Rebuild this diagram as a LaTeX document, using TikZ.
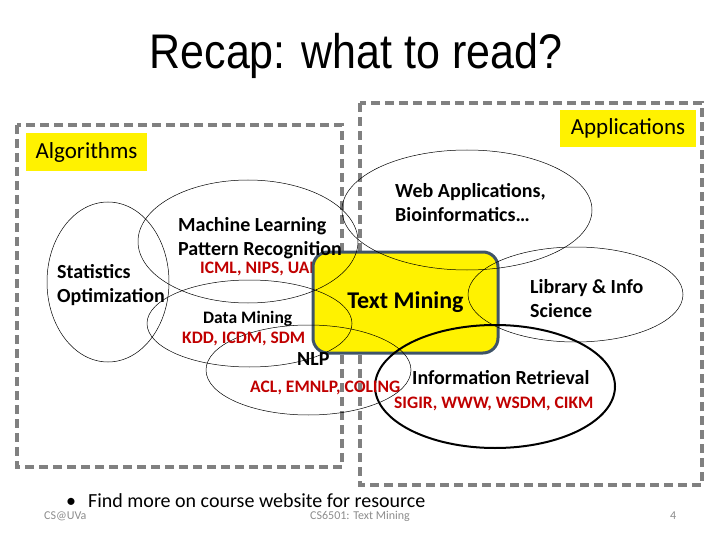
\documentclass[tikz,border=0pt]{standalone}
\usepackage{fontspec}
\setmainfont{Carlito}
\newfontfamily\titlefont{Liberation Sans}
\definecolor{confred}{HTML}{C00000}
\definecolor{areagray}{HTML}{808080}
\definecolor{tmborder}{HTML}{3F5468}
\definecolor{footgray}{HTML}{8C8C8C}

\tikzset{
    area/.style={draw=areagray, line width=3.5pt, dash pattern=on 9pt off 5pt},
    tag/.style={fill=yellow, inner sep=0pt, font=\fontsize{23}{28}\selectfont},
    field/.style={draw=black, line width=0.5pt},
    topic/.style={font=\bfseries\fontsize{20}{24}\selectfont, anchor=base west, inner sep=0pt},
    venue/.style={text=confred, font=\bfseries\fontsize{17.5}{21}\selectfont, anchor=base west, inner sep=0pt},
    foot/.style={text=footgray, font=\fontsize{12}{14}\selectfont, anchor=base west, inner sep=0pt},
}

\begin{document}
\begin{tikzpicture}[x=1pt, y=-1pt]
        \useasboundingbox (0,0) rectangle (720,540);

        % Titel
        \node[font=\titlefont\fontsize{43}{50}\selectfont, anchor=base, inner sep=0pt] (title) at (356,69)
            {\scalebox{1}[1.13]{Recap: what to read?}};

        % Bereiche
        \draw[area] (17,125) rectangle (342,467); % Algorithms
        \draw[area] (360,103) rectangle (702,485); % Applications
        \node[tag, minimum width=121pt, minimum height=38pt] (algo) at (86.5,152) {Algorithms};
        \node[tag, minimum width=136pt, minimum height=37pt] (apps) at (628,128.5) {Applications};

        % Text Mining in der Mitte (liegt ueber UAI)
        \node[venue] (icml) at (200,273) {ICML, NIPS, UAI};
        \node[draw=tmborder, line width=3pt, fill=yellow, rounded corners=15pt,
              minimum width=185pt, minimum height=101pt,
              font=\bfseries\fontsize{24}{28}\selectfont] (tm) at (405.5,302.5) {Text Mining};

        % Felder als Ellipsen
        \draw[field] (108,282) ellipse [x radius=61pt, y radius=80pt]; % Statistics
        \draw[field] (248,241.5) ellipse [x radius=110pt, y radius=61.5pt]; % Machine Learning
        \draw[field] (249.5,323.5) ellipse [x radius=102.5pt, y radius=43.5pt]; % Data Mining
        \draw[field] (308.5,370) ellipse [x radius=102.5pt, y radius=45pt]; % NLP
        \draw[field] (467,210) ellipse [x radius=125pt, y radius=60pt]; % Web
        \draw[field] (575.5,294.5) ellipse [x radius=107.5pt, y radius=47.5pt]; % Library
        \draw[field, line width=2pt] (495,386.5) ellipse [x radius=120pt, y radius=61.5pt]; % IR

        % Beschriftungen
        \node[topic] (stat) at (57,278) {Statistics};
        \node[topic] (opt) at (57,302) {Optimization};
        \node[topic] (ml) at (178,232) {Machine Learning};
        \node[topic] (pr) at (178,255) {Pattern Recognition};
        \node[topic, font=\bfseries\fontsize{17.5}{21}\selectfont] (dm) at (203,323) {Data Mining};
        \node[venue] (kdd) at (182,343) {KDD, ICDM, SDM};
        \node[topic] (nlp) at (297,365) {NLP};
        \node[venue] (acl) at (250,392) {ACL, EMNLP, COLING};
        \node[topic] (ir) at (412,384) {Information Retrieval};
        \node[venue] (sigir) at (394,408) {SIGIR, WWW, WSDM, CIKM};
        \node[topic] (web) at (395,198) {Web Applications,};
        \node[topic] (bio) at (395,222) {Bioinformatics…};
        \node[topic] (lib) at (530,293) {Library \& Info};
        \node[topic] (sci) at (530,317) {Science};

        % Fusszeile
        \node[anchor=base west, inner sep=0pt, font=\fontsize{20}{24}\selectfont] (more) at (66,507)
            {\makebox[22pt][l]{•}Find more on course website for resource};
        \node[foot] (uva) at (44,519) {CS@UVa};
        \node[foot] (course) at (310,519) {CS6501: Text Mining};
        \node[foot] (page) at (670,519) {4};
    \end{tikzpicture}
\end{document}
